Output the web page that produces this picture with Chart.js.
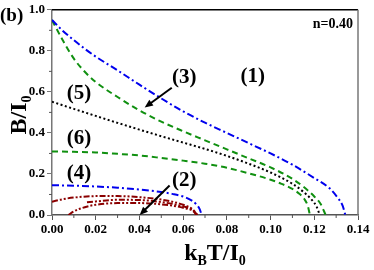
<!DOCTYPE html>
<html lang="en">
<head>
  <meta charset="UTF-8" />
  <title>B/I0 vs kBT/I0, n=0.40</title>
  <script src="https://cdn.jsdelivr.net/npm/chart.js"></script>
  <style>
    body { margin: 0; background: #fff; }
    #wrap { width: 374px; height: 270px; }
  </style>
</head>
<body>
<div id="wrap"><canvas id="phaseChart" width="374" height="270"></canvas></div>
<script>
  // curve (1) blue dash-dot
  const t1 = [0, 0.005, 0.01, 0.015, 0.02, 0.03, 0.04, 0.05, 0.06, 0.07, 0.08, 0.09, 0.10, 0.11, 0.12, 0.127, 0.131, 0.133, 0.1342];
  const b1 = [0.95, 0.897, 0.852, 0.81, 0.772, 0.705, 0.635, 0.568, 0.505, 0.45, 0.40, 0.35, 0.30, 0.245, 0.18, 0.13, 0.08, 0.045, 0];
  // curve (3) green dashed, upper
  const t3 = [0, 0.005, 0.01, 0.015, 0.02, 0.03, 0.04, 0.05, 0.06, 0.07, 0.08, 0.09, 0.10, 0.11, 0.115, 0.12, 0.123, 0.1252];
  const b3 = [0.95, 0.85, 0.762, 0.698, 0.648, 0.575, 0.51, 0.455, 0.408, 0.364, 0.32, 0.276, 0.232, 0.176, 0.138, 0.09, 0.052, 0];
  // curve (5) black dotted
  const t5 = [0, 0.01, 0.02, 0.03, 0.04, 0.05, 0.06, 0.07, 0.08, 0.09, 0.10, 0.11, 0.115, 0.119, 0.121, 0.1225];
  const b5 = [0.552, 0.517, 0.483, 0.449, 0.416, 0.384, 0.353, 0.322, 0.288, 0.25, 0.207, 0.152, 0.113, 0.072, 0.042, 0];
  // curve (6) green dashed, lower
  const t6 = [0, 0.01, 0.02, 0.03, 0.04, 0.05, 0.06, 0.07, 0.08, 0.09, 0.10, 0.105, 0.11, 0.113, 0.1155, 0.117, 0.118];
  const b6 = [0.31, 0.308, 0.305, 0.298, 0.29, 0.278, 0.265, 0.25, 0.23, 0.203, 0.172, 0.152, 0.127, 0.105, 0.077, 0.045, 0];
  // curve (4) blue dash-dot, low
  const t4 = [0, 0.01, 0.02, 0.03, 0.04, 0.05, 0.055, 0.06, 0.064, 0.066, 0.0675, 0.0685];
  const b4 = [0.145, 0.143, 0.139, 0.133, 0.124, 0.112, 0.103, 0.09, 0.07, 0.052, 0.03, 0];
  // curves (2) dark red dash-dot-dot
  const t2a = [0, 0.005, 0.01, 0.02, 0.03, 0.04, 0.05, 0.055, 0.06, 0.064, 0.0665];
  const b2a = [0.065, 0.077, 0.085, 0.092, 0.092, 0.087, 0.075, 0.065, 0.05, 0.03, 0];
  const t2b = [0.016, 0.02, 0.03, 0.04, 0.05, 0.06, 0.065, 0.0665];
  const b2b = [0.062, 0.066, 0.074, 0.073, 0.063, 0.042, 0.02, 0];
  const t2c = [0.0075, 0.01, 0.015, 0.02, 0.03, 0.04, 0.05, 0.06, 0.065, 0.066];
  const b2c = [0, 0.018, 0.038, 0.05, 0.058, 0.058, 0.052, 0.035, 0.015, 0];

  const xTicks = [0, 0.02, 0.04, 0.06, 0.08, 0.10, 0.12, 0.14];
  const yTicks = [0, 0.2, 0.4, 0.6, 0.8, 1.0];
  const curveLabels = ['(1)', '(3)', '(5)', '(6)', '(4)', '(2)'];

  const pts = (xs, ys) => xs.map((x, i) => ({ x: x, y: ys[i] }));
  const serif = '"Liberation Serif", "Times New Roman", serif';

  function line(xs, ys, color, dash) {
    return {
      data: pts(xs, ys),
      showLine: true,
      borderColor: color,
      borderWidth: 2,
      borderDash: dash,
      pointRadius: 0,
      cubicInterpolationMode: 'monotone',
      fill: false
    };
  }

  const dashDot = [7, 3, 2, 3];
  const dashed = [6, 4];
  const dotted = [2, 2.5];
  const dashDotDot = [6, 2, 2, 2, 2, 2];

  // label anchors in data units
  const labelPos = [[0.0918, 0.677], [0.0605, 0.672], [0.0124, 0.591], [0.0124, 0.37], [0.0124, 0.204], [0.0605, 0.170]];
  const arrows = [[0.0548, 0.62, 0.0424, 0.524], [0.0538, 0.144, 0.0401, 0.0]];

  function arrow(ctx, x1, y1, x2, y2) {
    const a = Math.atan2(y2 - y1, x2 - x1);
    const h = 9;
    ctx.beginPath();
    ctx.moveTo(x1, y1);
    ctx.lineTo(x2 - Math.cos(a) * 6, y2 - Math.sin(a) * 6);
    ctx.lineWidth = 2;
    ctx.strokeStyle = '#000';
    ctx.stroke();
    ctx.beginPath();
    ctx.moveTo(x2, y2);
    ctx.lineTo(x2 - h * Math.cos(a - 0.4), y2 - h * Math.sin(a - 0.4));
    ctx.lineTo(x2 - h * Math.cos(a + 0.4), y2 - h * Math.sin(a + 0.4));
    ctx.closePath();
    ctx.fillStyle = '#000';
    ctx.fill();
  }

  // draws text with subscripts, parts = [[text, isSub], ...], centred on x
  function subText(ctx, parts, x, y, size) {
    const big = 'bold ' + size + 'px ' + serif;
    const small = 'bold ' + Math.round(size * 0.6) + 'px ' + serif;
    let w = 0;
    parts.forEach(p => { ctx.font = p[1] ? small : big; w += ctx.measureText(p[0]).width; });
    let cx = x - w / 2;
    parts.forEach(p => {
      ctx.font = p[1] ? small : big;
      ctx.fillText(p[0], cx, p[1] ? y + size * 0.22 : y);
      cx += ctx.measureText(p[0]).width;
    });
  }

  const extras = {
    id: 'extras',
    afterDraw(chart) {
      const ctx = chart.ctx;
      const a = chart.chartArea;
      const xs = chart.scales.x, ys = chart.scales.y;
      ctx.save();
      // frame
      ctx.strokeStyle = '#000';
      ctx.lineWidth = 1.5;
      ctx.beginPath();
      ctx.moveTo(a.left, a.top); ctx.lineTo(a.right, a.top);
      ctx.stroke();
      ctx.strokeStyle = '#777';
      ctx.beginPath();
      ctx.moveTo(a.right, a.top); ctx.lineTo(a.right, a.bottom);
      ctx.stroke();

      // minor ticks
      ctx.lineWidth = 1;
      ctx.strokeStyle = '#555';
      for (let i = 0; i < xTicks.length - 1; i++) {
        const px = xs.getPixelForValue((xTicks[i] + xTicks[i + 1]) / 2);
        ctx.beginPath(); ctx.moveTo(px, a.bottom); ctx.lineTo(px, a.bottom + 3); ctx.stroke();
      }
      for (let i = 0; i < yTicks.length - 1; i++) {
        const py = ys.getPixelForValue((yTicks[i] + yTicks[i + 1]) / 2);
        ctx.beginPath(); ctx.moveTo(a.left, py); ctx.lineTo(a.left - 3, py); ctx.stroke();
      }

      ctx.fillStyle = '#000';
      ctx.textBaseline = 'middle';
      ctx.textAlign = 'center';
      ctx.font = 'bold 21px ' + serif;
      curveLabels.forEach((t, i) => {
        ctx.fillText(t, xs.getPixelForValue(labelPos[i][0]), ys.getPixelForValue(labelPos[i][1]));
      });
      arrows.forEach(r => arrow(ctx, xs.getPixelForValue(r[0]), ys.getPixelForValue(r[1]),
                                     xs.getPixelForValue(r[2]), ys.getPixelForValue(r[3])));

      ctx.textAlign = 'right';
      ctx.font = 'bold 14px ' + serif;
      ctx.fillText('n=0.40', a.right - 5, a.top + 15);

      ctx.textAlign = 'left';
      ctx.font = 'bold 19px ' + serif;
      ctx.fillText('(b)', 0, 16);

      // axis titles
      ctx.textAlign = 'left';
      ctx.textBaseline = 'alphabetic';
      subText(ctx, [['k', false], ['B', true], ['T/I', false], ['0', true]], 215, 260, 24);
      ctx.translate(26, 115);
      ctx.rotate(-Math.PI / 2);
      subText(ctx, [['B/I', false], ['0', true]], 0, 0, 24);
      ctx.restore();
    }
  };

  new Chart(document.getElementById('phaseChart'), {
    type: 'scatter',
    data: {
      datasets: [
        line(t1, b1, '#0000ee', dashDot),
        line(t3, b3, '#109010', dashed),
        line(t5, b5, '#000000', dotted),
        line(t6, b6, '#109010', dashed),
        line(t4, b4, '#0000ee', dashDot),
        line(t2a, b2a, '#8b0000', dashDotDot),
        line(t2b, b2b, '#8b0000', dashDotDot),
        line(t2c, b2c, '#8b0000', dashDotDot)
      ]
    },
    options: {
      responsive: false,
      animation: false,
      layout: { padding: { top: 5, right: 16, left: 0, bottom: 0 } },
      plugins: { legend: { display: false }, tooltip: { enabled: false } },
      scales: {
        x: {
          min: 0, max: 0.14,
          afterFit: s => { s.height = 55; },
          afterBuildTicks: s => { s.ticks = xTicks.map(v => ({ value: v })); },
          ticks: {
            callback: v => v.toFixed(2),
            color: '#000',
            padding: 2,
            maxRotation: 0,
            font: { family: serif, size: 13, weight: 'bold' }
          },
          grid: { drawOnChartArea: false, tickLength: 5, color: '#555' },
          border: { color: '#555', width: 1.5 }
        },
        y: {
          min: 0, max: 1,
          afterFit: s => { s.width = 52; },
          afterBuildTicks: s => { s.ticks = yTicks.map(v => ({ value: v })); },
          ticks: {
            callback: v => v.toFixed(1),
            color: '#000',
            padding: 2,
            font: { family: serif, size: 13, weight: 'bold' }
          },
          grid: { drawOnChartArea: false, tickLength: 5, color: '#777' },
          border: { color: '#777', width: 1.5 }
        }
      }
    },
    plugins: [extras]
  });
</script>
</body>
</html>
